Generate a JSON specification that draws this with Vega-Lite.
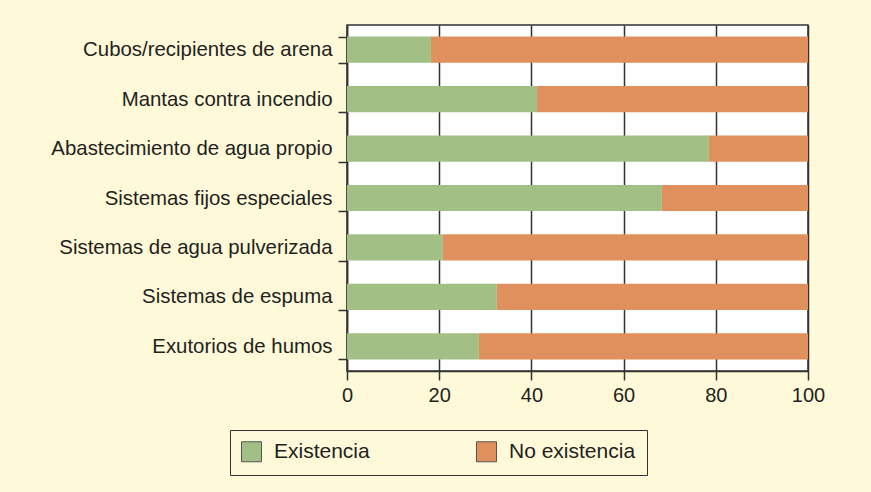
{
  "$schema": "https://vega.github.io/schema/vega-lite/v6.json",
  "width": 461,
  "height": 346,
  "autosize": "none",
  "padding": {"left": 347, "top": 25, "right": 63, "bottom": 121},
  "background": "#fef9d9",
  "config": {
    "font": "Liberation Sans",
    "view": {"fill": "#ffffff", "stroke": "#333333", "strokeWidth": 1.5},
    "axis": {"labelFont": "Liberation Sans", "labelColor": "#231f20", "domainColor": "#333333", "tickColor": "#333333", "domainWidth": 1.5, "tickWidth": 1.5}
  },
  "data": {
    "values": [
      {"categoria": "Cubos/recipientes de arena", "tipo": "Existencia", "orden": 1, "valor": 18.2},
      {"categoria": "Cubos/recipientes de arena", "tipo": "No existencia", "orden": 2, "valor": 81.8},
      {"categoria": "Mantas contra incendio", "tipo": "Existencia", "orden": 1, "valor": 41.2},
      {"categoria": "Mantas contra incendio", "tipo": "No existencia", "orden": 2, "valor": 58.8},
      {"categoria": "Abastecimiento de agua propio", "tipo": "Existencia", "orden": 1, "valor": 78.5},
      {"categoria": "Abastecimiento de agua propio", "tipo": "No existencia", "orden": 2, "valor": 21.5},
      {"categoria": "Sistemas fijos especiales", "tipo": "Existencia", "orden": 1, "valor": 68.3},
      {"categoria": "Sistemas fijos especiales", "tipo": "No existencia", "orden": 2, "valor": 31.7},
      {"categoria": "Sistemas de agua pulverizada", "tipo": "Existencia", "orden": 1, "valor": 20.8},
      {"categoria": "Sistemas de agua pulverizada", "tipo": "No existencia", "orden": 2, "valor": 79.2},
      {"categoria": "Sistemas de espuma ", "tipo": "Existencia", "orden": 1, "valor": 32.5},
      {"categoria": "Sistemas de espuma ", "tipo": "No existencia", "orden": 2, "valor": 67.5},
      {"categoria": "Exutorios de humos", "tipo": "Existencia", "orden": 1, "valor": 28.6},
      {"categoria": "Exutorios de humos", "tipo": "No existencia", "orden": 2, "valor": 71.4}
    ]
  },
  "mark": {"type": "bar"},
  "encoding": {
    "y": {
      "field": "categoria",
      "type": "nominal",
      "sort": ["Cubos/recipientes de arena", "Mantas contra incendio", "Abastecimiento de agua propio", "Sistemas fijos especiales", "Sistemas de agua pulverizada", "Sistemas de espuma ", "Exutorios de humos"],
      "scale": {"paddingInner": 0.47, "paddingOuter": 0.235},
      "axis": {"title": null, "tickBand": "extent", "tickSize": 9, "labelPadding": 6, "labelFontSize": 20.4, "labelLimit": 0, "grid": false}
    },
    "x": {
      "field": "valor",
      "type": "quantitative",
      "stack": "zero",
      "scale": {"domain": [0, 100], "nice": false},
      "axis": {"title": null, "values": [0, 20, 40, 60, 80, 100], "tickSize": 9, "labelPadding": 5, "labelFontSize": 20, "grid": true, "gridColor": "#333333", "gridWidth": 1.5, "labelFlush": false}
    },
    "color": {
      "field": "tipo",
      "type": "nominal",
      "scale": {"domain": ["Existencia", "No existencia"], "range": ["#a2c086", "#e0905c"]},
      "legend": {
        "title": null,
        "orient": "none",
        "legendX": -117,
        "legendY": 405,
        "direction": "horizontal",
        "columns": 2,
        "columnPadding": 104,
        "padding": 11,
        "strokeColor": "#333333",
        "symbolType": "square",
        "symbolSize": 400,
        "symbolStrokeColor": "#555555",
        "symbolStrokeWidth": 1,
        "symbolOpacity": 1,
        "labelFontSize": 21,
        "labelOffset": 12,
        "labelLimit": 0,
        "labelColor": "#231f20",
        "labelFont": "Liberation Sans"
      }
    },
    "order": {"field": "orden", "type": "quantitative"}
  }
}
